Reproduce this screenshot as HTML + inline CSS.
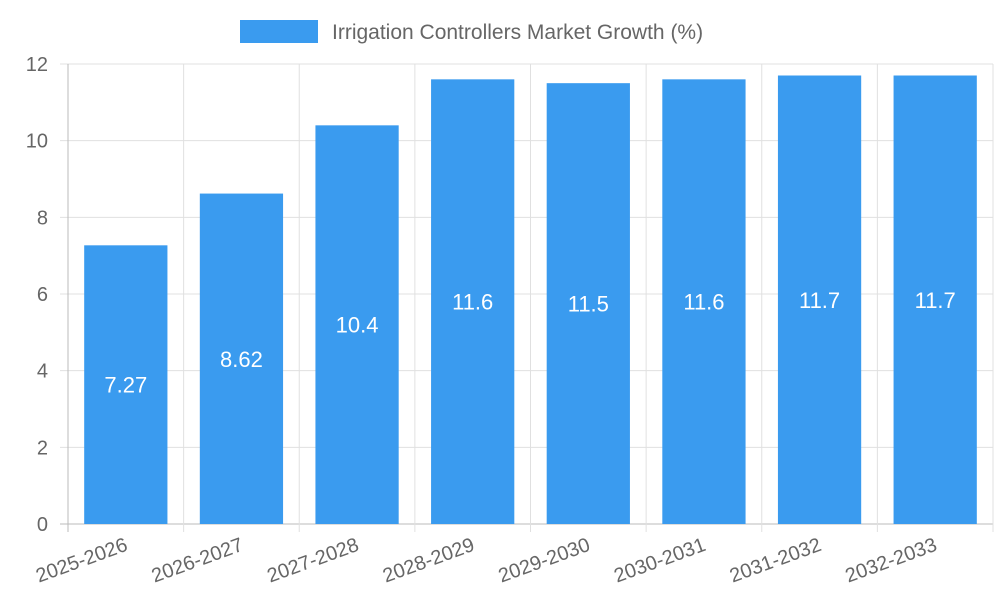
<!DOCTYPE html>
<html><head><meta charset="utf-8"><style>
html,body{margin:0;padding:0;background:#fff;}
svg{display:block;font-family:"Liberation Sans",sans-serif;}
</style></head><body>
<svg id="chart" width="1000" height="600"></svg>
<script>
const categories = ["2025-2026","2026-2027","2027-2028","2028-2029","2029-2030","2030-2031","2031-2032","2032-2033"];
const growthValues = [7.27, 8.62, 10.4, 11.6, 11.5, 11.6, 11.7, 11.7];
const valueLabels = ["7.27","8.62","10.4","11.6","11.5","11.6","11.7","11.7"];
const yTicks = [0,2,4,6,8,10,12];

const NS="http://www.w3.org/2000/svg";
const svgEl=document.getElementById('chart');
const plotLeft=68,plotRight=993,plotTop=64,plotBottom=524,yMax=12;
const bandW=(plotRight-plotLeft)/categories.length;
function yScale(v){return plotBottom-(v/yMax)*(plotBottom-plotTop);}
function xCenter(i){return plotLeft+bandW*(i+0.5);}
function mk(tag,attrs,parent){const e=document.createElementNS(NS,tag);for(const k in attrs)e.setAttribute(k,attrs[k]);(parent||svgEl).appendChild(e);return e;}

yTicks.forEach(t=>{
  const l=mk('line',{x1:plotLeft-8,x2:plotRight,y1:yScale(t),y2:yScale(t),stroke:t===0?'#bbb':'#e0e0e0','stroke-width':1});
  
  
  const tx=mk('text',{x:48,y:yScale(t)+7,'text-anchor':'end','font-size':20,fill:'#666'});
  tx.textContent=t;
  
  
});
for(let i=0;i<=categories.length;i++){
  const x=plotLeft+bandW*i;
  const l=mk('line',{x1:x,x2:x,y1:plotTop,y2:plotBottom+8,stroke:i===0?'#bbb':'#e0e0e0','stroke-width':1});
  
  
}
categories.forEach((c,i)=>{
  const w=bandW*0.72, yt=yScale(growthValues[i]);
  const r=mk('rect',{x:xCenter(i)-w/2,y:yt,width:w,height:plotBottom-yt,fill:'#3a9bef'});
  
  
  const t=mk('text',{x:xCenter(i),y:(yt+plotBottom)/2+8,'text-anchor':'middle','font-size':22,fill:'#fff'});
  t.textContent=valueLabels[i];
  
  
  const ax=xCenter(i)+3, ay=plotBottom+26;
  const xl=mk('text',{x:ax,y:ay,'text-anchor':'end','font-size':20,fill:'#666',transform:'rotate(-20 '+ax+' '+ay+')'});
  xl.textContent=c;
  
  
});
const lg=mk('g',{});


mk('rect',{x:240,y:20,width:78,height:23,fill:'#3a9bef'},lg);
const lt=mk('text',{x:332,y:39,'font-size':21,fill:'#666'},lg);
lt.textContent='Irrigation Controllers Market Growth (%)';


</script>
</body></html>
